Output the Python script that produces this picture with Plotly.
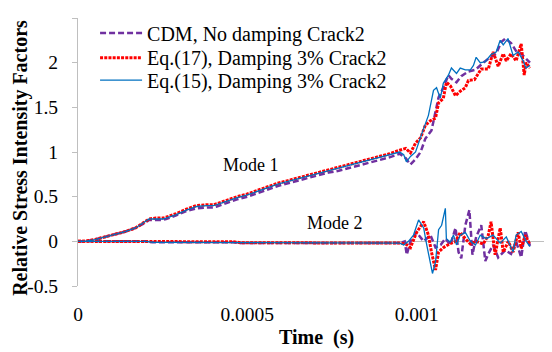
import plotly.graph_objects as go

# ---------------- data ----------------
x_tick_vals = [0, 0.0005, 0.001]
x_tick_text = ["0", "0.0005", "0.001"]
y_tick_vals = [-0.5, 0, 0.5, 1, 1.5, 2, 2.5]
y_tick_text = ["-0.5", "0", "0.5", "1", "1.5", "2", "2.5"]

series_names = ["CDM, No damping Crack2",
                "Eq.(17), Damping 3% Crack2",
                "Eq.(15), Damping 3% Crack2"]

# Mode 1 - common early time base
t_m1_early = [0, 0.00002, 0.00005, 0.00008, 0.00011, 0.00014, 0.00017, 0.0002, 0.00021,
              0.00023, 0.00025, 0.00026, 0.00029, 0.00032, 0.00035, 0.00038, 0.0004, 0.00041,
              0.00044, 0.00047, 0.0005, 0.00053, 0.00056, 0.00059, 0.00062, 0.00065, 0.00068,
              0.00071, 0.00074, 0.00077, 0.0008, 0.00083, 0.00086, 0.00089, 0.00092, 0.00095]

k_eq15_m1_early = [0, 0.0, 0.02, 0.05, 0.08, 0.11, 0.15, 0.22, 0.25, 0.25, 0.25, 0.26,
                   0.30, 0.35, 0.39, 0.40, 0.40, 0.41, 0.45, 0.49, 0.52, 0.56, 0.60, 0.64,
                   0.67, 0.70, 0.73, 0.76, 0.79, 0.82, 0.85, 0.88, 0.91, 0.94, 0.97, 1.0]
k_eq17_m1_early = [0, 0.0, 0.02, 0.05, 0.08, 0.11, 0.15, 0.22, 0.25, 0.26, 0.26, 0.27,
                   0.31, 0.36, 0.40, 0.41, 0.41, 0.42, 0.46, 0.50, 0.53, 0.57, 0.61, 0.65,
                   0.68, 0.71, 0.74, 0.77, 0.80, 0.83, 0.86, 0.89, 0.92, 0.95, 0.98, 1.02]
k_cdm_m1_early = [0, 0.0, 0.02, 0.05, 0.08, 0.11, 0.15, 0.21, 0.24, 0.24, 0.24, 0.25,
                  0.29, 0.34, 0.37, 0.38, 0.38, 0.39, 0.43, 0.47, 0.50, 0.54, 0.58, 0.62,
                  0.65, 0.68, 0.71, 0.74, 0.77, 0.79, 0.82, 0.85, 0.88, 0.91, 0.94, 0.98]

# Mode 1 - late part
t_eq15_m1_late = [0.000962, 0.00097, 0.000982, 0.000997, 0.001015, 0.001035, 0.00105, 0.001059,
                  0.00107, 0.001079, 0.001094, 0.001103, 0.001118, 0.001129, 0.001144, 0.001159,
                  0.001168, 0.001176, 0.001188, 0.001203, 0.00122, 0.001235, 0.001247, 0.001256,
                  0.00127, 0.001285, 0.0013, 0.001315, 0.001323, 0.001335]
k_eq15_m1_late = [0.97, 0.89, 0.95, 1.0, 1.2, 1.41, 1.69, 1.72, 1.6, 1.77, 1.86, 1.94, 1.88,
                  1.94, 1.92, 1.92, 1.97, 2.06, 2.0, 2.01, 2.09, 2.12, 2.25, 2.2, 2.27, 2.08,
                  2.12, 2.02, 1.94, 1.97]

t_eq17_m1_late = [0.000968, 0.000982, 0.000997, 0.001012, 0.001026, 0.001041, 0.001056, 0.001065,
                  0.001079, 0.001088, 0.0011, 0.001115, 0.001129, 0.001144, 0.001153, 0.001171,
                  0.001191, 0.001212, 0.001226, 0.001241, 0.001256, 0.001265, 0.001279, 0.001294,
                  0.001309, 0.001318, 0.001323, 0.001335]
k_eq17_m1_late = [1.04, 0.99, 1.1, 1.16, 1.3, 1.35, 1.38, 1.55, 1.6, 1.78, 1.74, 1.63, 1.68,
                  1.72, 1.8, 1.81, 1.93, 1.93, 2.12, 1.96, 2.1, 2.02, 2.1, 2.02, 2.21, 1.86,
                  2.0, 1.94]

t_cdm_m1_late = [0.000968, 0.000982, 0.000997, 0.001012, 0.001026, 0.001044, 0.001065, 0.001079,
                 0.001094, 0.001103, 0.001118, 0.001132, 0.001153, 0.001174, 0.001197, 0.001218,
                 0.001235, 0.00125, 0.001262, 0.001279, 0.001294, 0.001309, 0.001323, 0.001335]
k_cdm_m1_late = [0.93, 0.86, 0.92, 1.0, 1.15, 1.24, 1.61, 1.72, 1.86, 1.82, 1.78, 1.85, 1.9,
                 1.92, 2.0, 2.06, 2.1, 2.23, 2.27, 2.22, 2.13, 2.1, 2.05, 2.0]

# Mode 2 - early (near zero)
t_m2_early = [0, 0.0002, 0.00022, 0.00046, 0.00048, 0.00095]
k_eq15_m2_early = [0, 0, -0.01, -0.01, -0.015, -0.02]
k_eq17_m2_early = [0, 0, -0.005, -0.005, -0.015, -0.02]
k_cdm_m2_early = [0, 0, -0.01, -0.01, -0.02, -0.02]

# Mode 2 - late part
t_eq15_m2_late = [0.000962, 0.000976, 0.000991, 0.001006, 0.001021, 0.001029, 0.001041, 0.001047,
                  0.001056, 0.001065, 0.001074, 0.001085, 0.001088, 0.0011, 0.001109, 0.001118,
                  0.001129, 0.001144, 0.001159, 0.001174, 0.001188, 0.001206, 0.001226, 0.001247,
                  0.001265, 0.001276, 0.001285, 0.001294, 0.001309, 0.001324, 0.001335]
k_eq15_m2_late = [-0.04, 0.0, 0.07, 0.24, 0.15, -0.02, -0.24, -0.36, -0.23, 0.13, 0.18, 0.37,
                  0.03, -0.01, 0.07, -0.04, 0.07, 0.1, 0.0, -0.04, 0.07, 0.03, 0.07, -0.02,
                  0.05, -0.04, -0.12, 0.07, 0.11, 0.0, -0.06]

t_eq17_m2_late = [0.000968, 0.000982, 0.001, 0.001021, 0.001035, 0.001044, 0.001056, 0.001065,
                  0.001079, 0.001097, 0.001115, 0.001129, 0.001144, 0.001159, 0.001176, 0.001197,
                  0.001212, 0.00122, 0.001232, 0.001247, 0.001256, 0.001271, 0.001285, 0.0013,
                  0.001309, 0.001321, 0.001335]
k_eq17_m2_late = [-0.03, -0.07, 0.1, 0.22, 0.07, -0.12, -0.32, -0.12, -0.07, -0.03, 0.0, 0.1,
                  0.03, -0.03, 0.0, -0.03, 0.07, 0.22, -0.15, 0.15, -0.12, 0.0, -0.12, 0.1,
                  -0.08, 0.07, -0.04]

t_cdm_m2_late = [0.000965, 0.000971, 0.000982, 0.001, 0.001021, 0.001041, 0.001056, 0.001071,
                 0.001085, 0.0011, 0.001115, 0.001124, 0.001132, 0.001144, 0.001156, 0.001165,
                 0.001176, 0.001191, 0.001203, 0.001212, 0.001226, 0.001241, 0.001262, 0.001279,
                 0.001294, 0.001309, 0.001321, 0.001335]
k_cdm_m2_late = [0.0, -0.15, 0.0, 0.1, 0.0, 0.07, -0.07, -0.04, 0.03, -0.04, 0.15, -0.12,
                 -0.19, 0.18, 0.35, -0.15, 0.05, 0.18, -0.22, -0.14, -0.04, -0.18, -0.1, -0.14,
                 0.0, -0.18, 0.12, -0.05]

# ---------------- styling ----------------
FONT = "Liberation Serif, Times New Roman, serif"
PURPLE = "#7030A0"
RED = "#FF0000"
BLUE = "#0070C0"
GRAY = "#BFBFBF"

styles = {
    "cdm": dict(color=PURPLE, width=2.5, dash="6px,3px"),
    "eq17": dict(color=RED, width=3, dash="3px,1.2px"),
    "eq15": dict(color=BLUE, width=1.3, dash="solid"),
}

fig = go.Figure()

def add_pair(key, name, legend_id, t1, k1, t2, k2):
    fig.add_trace(go.Scatter(x=t1, y=k1, mode="lines", name=name, legendgroup=key,
                             legend=legend_id, line=styles[key], showlegend=True))
    fig.add_trace(go.Scatter(x=t2, y=k2, mode="lines", name=name, legendgroup=key,
                             legend=legend_id, line=styles[key], showlegend=False))

add_pair("cdm", series_names[0], "legend",
         t_m1_early + t_cdm_m1_late, k_cdm_m1_early + k_cdm_m1_late,
         t_m2_early + t_cdm_m2_late, k_cdm_m2_early + k_cdm_m2_late)
add_pair("eq17", series_names[1], "legend2",
         t_m1_early + t_eq17_m1_late, k_eq17_m1_early + k_eq17_m1_late,
         t_m2_early + t_eq17_m2_late, k_eq17_m2_early + k_eq17_m2_late)
add_pair("eq15", series_names[2], "legend3",
         t_m1_early + t_eq15_m1_late, k_eq15_m1_early + k_eq15_m1_late,
         t_m2_early + t_eq15_m2_late, k_eq15_m2_early + k_eq15_m2_late)

def legend_at(ypos):
    return dict(x=0.036, y=ypos, xanchor="left", yanchor="middle",
                bgcolor="rgba(0,0,0,0)", borderwidth=0,
                font=dict(family=FONT, size=20, color="black"),
                itemwidth=42)

fig.update_layout(
    width=544, height=344,
    margin=dict(l=70, r=0, t=10, b=66),
    paper_bgcolor="white", plot_bgcolor="white",
    font=dict(family=FONT, size=20, color="black"),
    showlegend=True,
    legend=legend_at(0.944),
    legend2=legend_at(0.852),
    legend3=legend_at(0.768),
    xaxis=dict(range=[0, 0.0014], tickvals=x_tick_vals, ticktext=x_tick_text,
               showgrid=False, zeroline=False, showline=False, ticks="",
               tickfont=dict(family=FONT, size=19.5, color="black"),
               ticklabelstandoff=14),
    yaxis=dict(range=[-0.5, 2.5], tickvals=y_tick_vals, ticktext=y_tick_text,
               showgrid=False, zeroline=True, zerolinecolor=GRAY, zerolinewidth=1,
               showline=True, linecolor=GRAY, linewidth=1,
               ticks="outside", ticklen=5, tickcolor=GRAY,
               tickfont=dict(family=FONT, size=19.5, color="black"),
               ticklabelstandoff=10),
    annotations=[
        dict(text="Mode 1", x=0.000512, y=0.856, xref="x", yref="y", showarrow=False,
             font=dict(family=FONT, size=18, color="black")),
        dict(text="Mode 2", x=0.000759, y=0.207, xref="x", yref="y", showarrow=False,
             font=dict(family=FONT, size=18, color="black")),
        dict(text="<b>Time  (s)</b>", x=0.504, y=-0.194, xref="paper", yref="paper",
             xanchor="center", yanchor="middle", showarrow=False,
             font=dict(family=FONT, size=20, color="black")),
        dict(text="<b>Relative Stress Intensity Factors</b>", x=-0.1203, y=0.478,
             xref="paper", yref="paper", textangle=-90,
             xanchor="center", yanchor="middle", showarrow=False,
             font=dict(family=FONT, size=20, color="black")),
    ],
)

fig.write_html("out.html")
